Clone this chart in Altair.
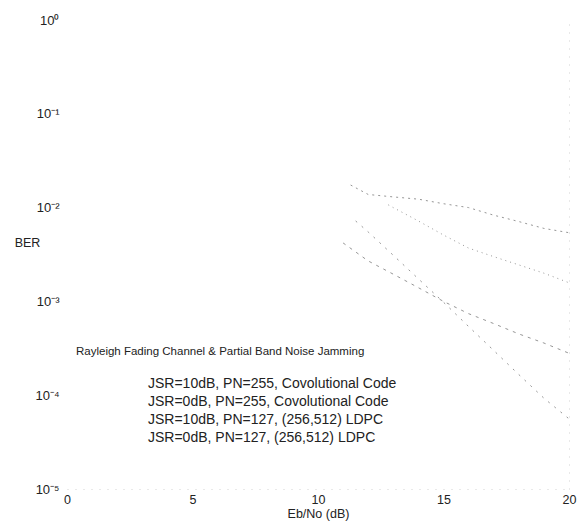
import altair as alt
import pandas as pd

FONT = "Liberation Sans"
INK = "#222222"

# Legend entries, in legend order
SERIES = [
    "JSR=10dB, PN=255, Covolutional Code",
    "JSR=0dB, PN=255, Covolutional Code",
    "JSR=10dB, PN=127, (256,512) LDPC",
    "JSR=0dB, PN=127, (256,512) LDPC",
]

# Eb/No (dB) and BER for each curve
conv10_ebno = [11.3, 12, 13, 14, 15, 16, 17, 18, 19, 20]
conv10_ber = [0.0174, 0.0138, 0.0130, 0.0123, 0.0110, 0.0100, 0.0083, 0.0071, 0.0060, 0.0054]

conv0_ebno = [12.8, 13, 14, 15, 16, 17, 18, 19, 20]
conv0_ber = [0.0107, 0.0100, 0.0072, 0.0051, 0.0037, 0.0030, 0.00245, 0.0020, 0.00158]

ldpc10_ebno = [11, 12, 13, 14, 15, 16, 17, 18, 19, 20]
ldpc10_ber = [0.0042, 0.0027, 0.00195, 0.0014, 0.0010, 0.00074, 0.00058, 0.00045, 0.00036, 0.00028]

ldpc0_ebno = [11.5, 12, 13, 14, 15, 16, 17, 18, 19, 20]
ldpc0_ber = [0.0072, 0.0055, 0.0031, 0.00174, 0.00098, 0.00054, 0.00030, 0.000166, 0.000093, 0.000056]

X_TICKS = [0, 5, 10, 15, 20]
Y_TICKS = [1, 0.1, 0.01, 0.001, 0.0001, 0.00001]

rows = []
for name, xs, ys in zip(
    SERIES,
    [conv10_ebno, conv0_ebno, ldpc10_ebno, ldpc0_ebno],
    [conv10_ber, conv0_ber, ldpc10_ber, ldpc0_ber],
):
    rows += [{"series": name, "ebno": a, "ber": b} for a, b in zip(xs, ys)]
df = pd.DataFrame(rows)

x_scale = alt.Scale(domain=[0, 20], nice=False, zero=False)
y_scale = alt.Scale(type="log", domain=[1e-5, 1], nice=False)

x_axis = alt.Axis(
    values=X_TICKS, title="Eb/No (dB)", grid=False, ticks=False,
    domainColor="#d2d2d2", domainDash=[1, 7],
    labelFlush=False, labelOverlap=False, labelPadding=4,
    labelFont=FONT, labelFontSize=12.5, labelColor=INK,
    titleFont=FONT, titleFontSize=12.5, titleFontWeight="normal",
    titleColor=INK, titlePadding=2,
)

y_label = (
    "datum.value > 0.5 ? '10\u2070' : datum.value > 0.05 ? '10\u207b\u00b9' : "
    "datum.value > 0.005 ? '10\u207b\u00b2' : datum.value > 0.0005 ? '10\u207b\u00b3' : "
    "datum.value > 0.00005 ? '10\u207b\u2074' : '10\u207b\u2075'"
)

lines = alt.Chart(df).mark_line(color="#969696", strokeWidth=1).encode(
    x=alt.X("ebno:Q", scale=x_scale, axis=x_axis),
    y=alt.Y(
        "ber:Q",
        scale=y_scale,
        axis=alt.Axis(
            values=Y_TICKS, labelExpr=y_label, grid=False, ticks=False, domain=False,
            labelFlush=False, labelOverlap=False, labelPadding=8,
            labelFont=FONT, labelFontSize=13, labelColor=INK,
            title="BER", titleAngle=0, titleX=-40, titleY=222,
            titleAlign="center", titleBaseline="middle",
            titleFont=FONT, titleFontSize=12.5, titleFontWeight="normal", titleColor=INK,
        ),
    ),
    strokeDash=alt.StrokeDash(
        "series:N",
        sort=SERIES,
        scale=alt.Scale(domain=SERIES, range=[[2, 4], [1, 4], [3, 5], [2, 6]]),
        legend=alt.Legend(
            orient="none", legendX=9, legendY=326,
            title="Rayleigh Fading Channel & Partial Band Noise Jamming",
            titleFont=FONT, titleFontSize=11.5, titleFontWeight="normal",
            titleColor=INK, titleLimit=0, titlePadding=19,
            labelFont=FONT, labelFontSize=14, labelColor=INK, labelLimit=0,
            labelOffset=58, rowPadding=4,
            symbolType="stroke", symbolOpacity=0, symbolSize=100,
        ),
    ),
)

# right-hand frame edge, kept faint
frame = alt.Chart(df).mark_line(opacity=0).encode(
    x=alt.X("ebno:Q", scale=x_scale, axis=x_axis),
    y=alt.Y(
        "ber:Q",
        scale=y_scale,
        axis=alt.Axis(
            orient="right", labels=False, ticks=False, grid=False, title="",
            domainColor="#d2d2d2", domainDash=[1, 7],
        ),
    ),
    detail="series:N",
)

chart = (
    alt.layer(lines, frame)
    .resolve_axis(y="independent")
    .properties(
        width=502,
        height=469,
        autosize=alt.AutoSizeParams(type="none"),
        padding={"left": 67, "top": 20, "right": 18, "bottom": 33},
        background="white",
    )
    .configure_view(strokeWidth=0)
)

chart.save("out.html", embed_options={"renderer": "svg", "actions": False})
